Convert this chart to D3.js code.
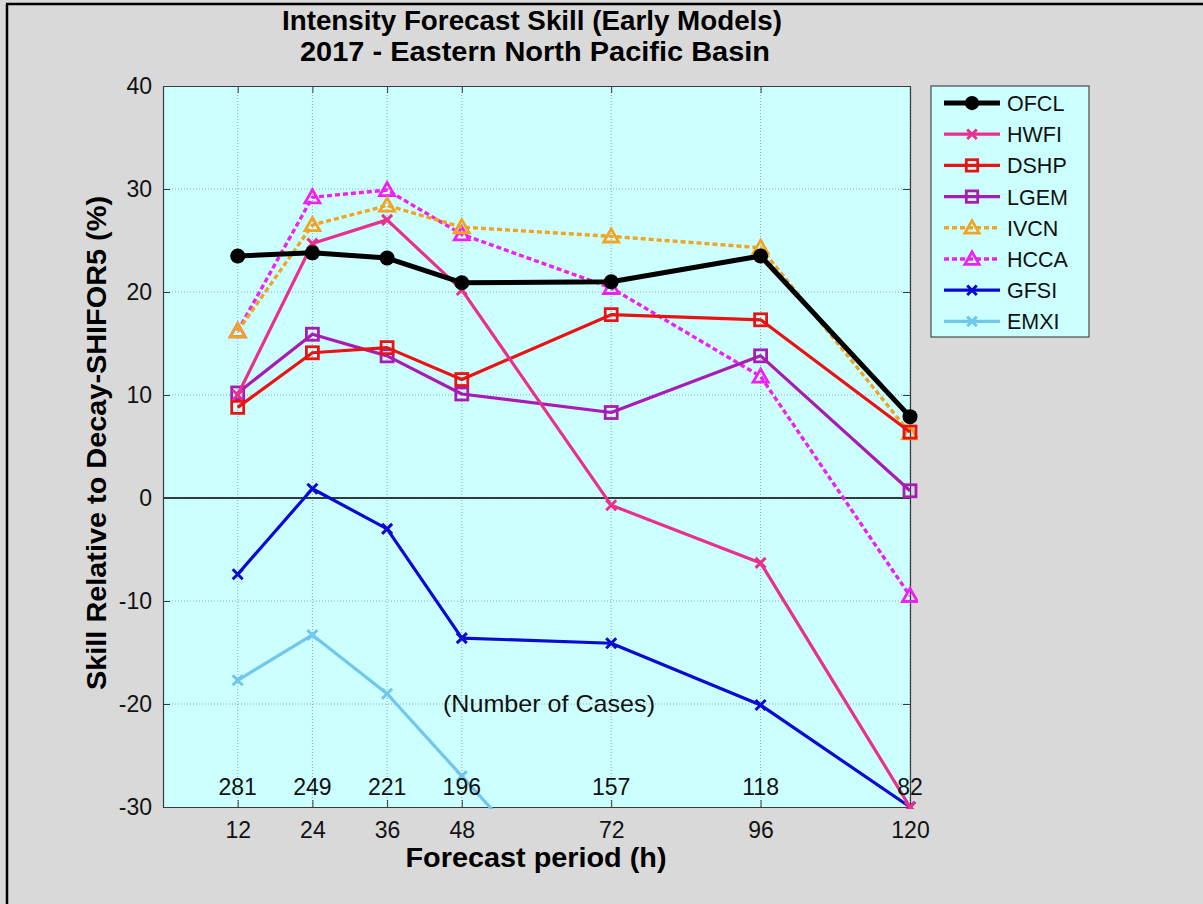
<!DOCTYPE html>
<html>
<head>
<meta charset="utf-8">
<script src="https://cdn.jsdelivr.net/npm/d3@7"></script>
<style>
  html, body { margin: 0; padding: 0; background: #d9d9d9; }
  svg { display: block; font-family: Arial, "Liberation Sans", sans-serif; }
</style>
</head>
<body>
<svg id="chart" width="1203" height="904"></svg>
<script>
// Forecast hours and verification case counts
const hours = [12, 24, 36, 48, 72, 96, 120];
const caseCounts = [281, 249, 221, 196, 157, 118, 82];
const yTicks = [-30, -20, -10, 0, 10, 20, 30, 40];

// Skill (%) relative to Decay-SHIFOR5 for each model
const OFCL = [23.5, 23.8, 23.3, 20.9, 21.0, 23.5, 7.9];
const HWFI = [10.0, 24.7, 27.0, 20.2, -0.7, -6.3, -30.0];
const DSHP = [8.8, 14.1, 14.6, 11.5, 17.8, 17.3, 6.4];
const LGEM = [10.2, 15.9, 13.8, 10.1, 8.3, 13.8, 0.7];
const IVCN = [16.2, 26.5, 28.4, 26.3, 25.4, 24.3, 6.3];
const HCCA = [16.2, 29.2, 29.9, 25.6, 20.4, 11.8, -9.5];
const GFSI = [-7.4, 0.9, -3.0, -13.6, -14.1, -20.1, -30.0];
const EMXI = [-17.7, -13.3, -19.0, -27.0, -43.0, -48.0, -55.0];

const models = [
  { name: "OFCL", values: OFCL, color: "#000000", width: 5, dash: null, marker: "dot" },
  { name: "HWFI", values: HWFI, color: "#e8308e", width: 3.2, dash: null, marker: "x" },
  { name: "DSHP", values: DSHP, color: "#e81414", width: 3.2, dash: null, marker: "square" },
  { name: "LGEM", values: LGEM, color: "#a81cb4", width: 3.2, dash: null, marker: "square" },
  { name: "IVCN", values: IVCN, color: "#f0a424", width: 3.4, dash: "5,3", marker: "triangle" },
  { name: "HCCA", values: HCCA, color: "#f020f0", width: 3.4, dash: "5,3", marker: "triangle" },
  { name: "GFSI", values: GFSI, color: "#0a0ad0", width: 3.2, dash: null, marker: "x" },
  { name: "EMXI", values: EMXI, color: "#72c6ec", width: 3.2, dash: null, marker: "x" }
];

const svg = d3.select("#chart");
const W = 1203, H = 904;

// page frame
svg.append("rect").attr("width", W).attr("height", H).attr("fill", "#d9d9d9");
svg.append("line").attr("x1", 7).attr("x2", 7).attr("y1", 4).attr("y2", H).attr("stroke", "#000").attr("stroke-width", 2.5);
svg.append("line").attr("x1", 6).attr("x2", W).attr("y1", 4).attr("y2", 4).attr("stroke", "#000").attr("stroke-width", 2.5);

const plot = { left: 163, right: 910, top: 86, bottom: 807 };
const x = d3.scaleLinear().domain([0, 120]).range([plot.left, plot.right]);
const y = d3.scaleLinear().domain([-30, 40]).range([plot.bottom, plot.top]);

// plot background
svg.append("rect")
  .attr("x", plot.left).attr("y", plot.top)
  .attr("width", plot.right - plot.left).attr("height", plot.bottom - plot.top)
  .attr("fill", "#ccffff");

// dotted grid
const grid = svg.append("g").attr("stroke", "#9aa6a6").attr("stroke-width", 1).attr("stroke-dasharray", "1,2");
grid.selectAll(".gx").data(hours).join("line")
  .attr("x1", d => x(d)).attr("x2", d => x(d))
  .attr("y1", plot.top).attr("y2", plot.bottom);
grid.selectAll(".gy").data(yTicks.filter(d => d > -30 && d < 40)).join("line")
  .attr("x1", plot.left).attr("x2", plot.right)
  .attr("y1", d => y(d)).attr("y2", d => y(d));

// zero line
svg.append("line")
  .attr("x1", plot.left).attr("x2", plot.right)
  .attr("y1", y(0)).attr("y2", y(0))
  .attr("stroke", "#000").attr("stroke-width", 1.6);

// axes
const axisColor = "#3a3a3a";
const plain = d => String(d);
const xAxis = svg.append("g").attr("transform", `translate(0,${plot.bottom})`)
  .call(d3.axisBottom(x).tickValues(hours).tickSizeInner(-7).tickSizeOuter(0).tickPadding(15).tickFormat(plain));
const yAxis = svg.append("g").attr("transform", `translate(${plot.left},0)`)
  .call(d3.axisLeft(y).tickValues(yTicks).tickSizeInner(-7).tickSizeOuter(0).tickPadding(11).tickFormat(plain));
const xTop = svg.append("g").attr("transform", `translate(0,${plot.top})`)
  .call(d3.axisTop(x).tickValues(hours).tickSizeInner(-7).tickSizeOuter(0).tickFormat(""));
const yRight = svg.append("g").attr("transform", `translate(${plot.right},0)`)
  .call(d3.axisRight(y).tickValues(yTicks).tickSizeInner(-7).tickSizeOuter(0).tickFormat(""));
[xAxis, yAxis, xTop, yRight].forEach(g => {
  g.select(".domain").attr("stroke", axisColor).attr("stroke-width", 1.2);
  g.selectAll(".tick line").attr("stroke", axisColor).attr("stroke-width", 1);
  g.selectAll(".tick text").attr("fill", "#111").attr("font-size", 23)
    .attr("font-family", "Arial, 'Liberation Sans', sans-serif");
});

// model lines and markers
svg.append("clipPath").attr("id", "plotClip").append("rect")
  .attr("x", plot.left - 8).attr("y", plot.top)
  .attr("width", plot.right - plot.left + 16).attr("height", plot.bottom - plot.top + 2);

const line = d3.line().x((d, i) => x(hours[i])).y(d => y(d));

function drawMarker(g, type, cx, cy, color, scale) {
  const s = scale || 1;
  if (type === "dot") {
    g.append("circle").attr("cx", cx).attr("cy", cy).attr("r", 7.5 * s).attr("fill", color);
  } else if (type === "square") {
    g.append("rect").attr("x", cx - 6 * s).attr("y", cy - 6 * s)
      .attr("width", 12 * s).attr("height", 12 * s)
      .attr("fill", "none").attr("stroke", color).attr("stroke-width", 2.8);
  } else if (type === "triangle") {
    const r = 7.5 * s;
    g.append("path")
      .attr("d", `M${cx},${cy - r} L${cx + r},${cy + r * 0.75} L${cx - r},${cy + r * 0.75} Z`)
      .attr("fill", "none").attr("stroke", color).attr("stroke-width", 2.8);
  } else if (type === "x") {
    const r = 5 * s;
    g.append("path")
      .attr("d", `M${cx - r},${cy - r} L${cx + r},${cy + r} M${cx - r},${cy + r} L${cx + r},${cy - r}`)
      .attr("stroke", color).attr("stroke-width", 3);
  }
}

const series = svg.append("g").attr("clip-path", "url(#plotClip)");
// draw in reverse so OFCL sits on top
models.slice().reverse().forEach(m => {
  const g = series.append("g");
  g.append("path").datum(m.values)
    .attr("d", line).attr("fill", "none")
    .attr("stroke", m.color).attr("stroke-width", m.width)
    .attr("stroke-dasharray", m.dash).attr("stroke-linejoin", "round");
  m.values.forEach((v, i) => {
    if (v >= -30 && v <= 40) drawMarker(g, m.marker, x(hours[i]), y(v), m.color);
  });
});

// case counts
svg.append("g").selectAll("text").data(caseCounts).join("text")
  .attr("x", (d, i) => x(hours[i])).attr("y", y(-30) - 12)
  .attr("text-anchor", "middle").attr("font-size", 23).attr("fill", "#111")
  .text(d => d);
svg.append("text")
  .attr("x", 549).attr("y", y(-20.8))
  .attr("text-anchor", "middle").attr("font-size", 24).attr("fill", "#111")
  .attr("textLength", 212).attr("lengthAdjust", "spacingAndGlyphs")
  .text("(Number of Cases)");

// titles
svg.append("text").attr("x", 532).attr("y", 30)
  .attr("text-anchor", "middle").attr("font-size", 27).attr("font-weight", "bold")
  .attr("textLength", 500).attr("lengthAdjust", "spacingAndGlyphs")
  .text("Intensity Forecast Skill (Early Models)");
svg.append("text").attr("x", 535).attr("y", 61)
  .attr("text-anchor", "middle").attr("font-size", 27).attr("font-weight", "bold")
  .attr("textLength", 470).attr("lengthAdjust", "spacingAndGlyphs")
  .text("2017 - Eastern North Pacific Basin");

// axis titles
svg.append("text").attr("x", 536).attr("y", 867)
  .attr("text-anchor", "middle").attr("font-size", 27).attr("font-weight", "bold")
  .attr("textLength", 261).attr("lengthAdjust", "spacingAndGlyphs")
  .text("Forecast period (h)");
svg.append("text")
  .attr("transform", "translate(106,443) rotate(-90)")
  .attr("text-anchor", "middle").attr("font-size", 27).attr("font-weight", "bold")
  .attr("textLength", 494).attr("lengthAdjust", "spacingAndGlyphs")
  .text("Skill Relative to Decay-SHIFOR5 (%)");

// legend
const leg = { x: 931, y: 86, w: 158, h: 251 };
const lg = svg.append("g");
lg.append("rect").attr("x", leg.x).attr("y", leg.y).attr("width", leg.w).attr("height", leg.h)
  .attr("fill", "#ccffff").attr("stroke", "#4a4a4a").attr("stroke-width", 1.2);
models.forEach((m, i) => {
  const cy = leg.y + 17 + i * 31.2;
  const g = lg.append("g");
  g.append("line").attr("x1", 944).attr("x2", 1000).attr("y1", cy).attr("y2", cy)
    .attr("stroke", m.color).attr("stroke-width", m.width).attr("stroke-dasharray", m.dash);
  drawMarker(g, m.marker, 972, cy, m.color, 0.95);
  g.append("text").attr("x", 1007).attr("y", cy + 8).attr("font-size", 21.5).attr("fill", "#111").text(m.name);
});
</script>
</body>
</html>
